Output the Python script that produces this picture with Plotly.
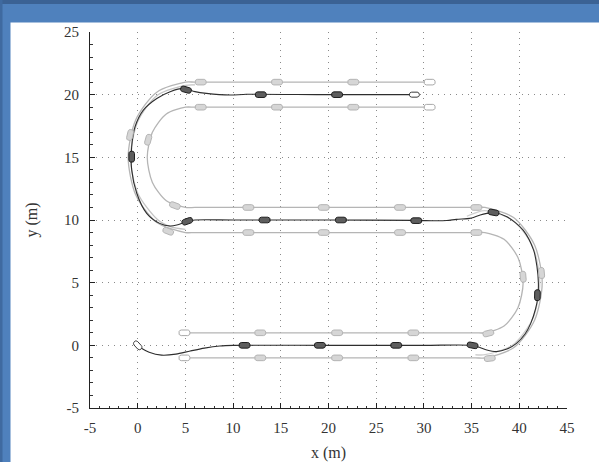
import numpy as np
import plotly.graph_objects as go

# ---------------- data ----------------
x_ticks = [-5, 0, 5, 10, 15, 20, 25, 30, 35, 40, 45]
x_tick_text = ["-5", "0", "5", "10", "15", "20", "25", "30", "35", "40", "45"]
y_ticks = [-5, 0, 5, 10, 15, 20, 25]
y_tick_text = ["-5", "0", "5", "10", "15", "20", "25"]

# lane A (y=-1 -> outer right -> y=11 -> inner left -> y=19)
laneA_x = [4.9, 10, 20, 30, 35.4, 36.4, 39.4, 41.6, 42.4, 41.6, 39.4, 36.4, 35.4, 30, 20, 10, 6, 5, 3, 1.54, 1, 1.54, 3, 5, 6, 10, 20, 30.6]
laneA_y = [-1, -1, -1, -1, -1, -1, -0.2, 2, 5, 8, 10.2, 11, 11, 11, 11, 11, 11, 11, 11.54, 13, 15, 17, 18.46, 19, 19, 19, 19, 19]
# lane B (y=1 -> inner right -> y=9 -> outer left -> y=21)
laneB_x = [4.9, 10, 20, 30, 35.4, 36.4, 38.4, 39.86, 40.4, 39.86, 38.4, 36.4, 35.4, 30, 20, 10, 6, 5, 2, -0.2, -1, -0.2, 2, 5, 6, 10, 20, 30.6]
laneB_y = [1, 1, 1, 1, 1, 1, 1.54, 3, 5, 7, 8.46, 9, 9, 9, 9, 9, 9, 9, 9.8, 12, 15, 18, 20.2, 21, 21, 21, 21, 21]
# secondary light paths on the turns
left2_x = [6.0, 5.0, 2.1, 0.02, -0.75, 0.02, 2.1, 3.5, 5.0]
left2_y = [20.78, 20.75, 19.98, 17.88, 15, 12.12, 10.02, 9.45, 9.25]
right2_x = [35.4, 36.4, 39.3, 41.4, 42.15, 41.4, 39.3, 36.4, 34.5]
right2_y = [-0.75, -0.75, 0.02, 2.12, 5, 7.88, 9.98, 10.75, 10.3]

# ego vehicle path (black)
path_x = [0.2, 1.2, 2.5, 4.0, 5.5, 7.0, 8.6, 10, 20, 30, 35, 35.8, 36.6, 37.6, 38.7, 39.7, 40.6, 41.2, 41.7,
          41.95, 42.0, 41.85, 41.5, 40.4, 38.7, 37.3, 36.6, 35.9, 35.2, 34.8, 33.4, 32.4, 31.3, 29, 20, 10, 6,
          5.2, 4.1, 3.4, 2.3, 0.94, -0.1, -0.63, -0.63, -0.28, 0.59, 2.0, 3.4, 4.8, 6.0, 7.2, 9.7, 11.4, 20, 29]
path_y = [-0.15, -0.55, -0.78, -0.7, -0.45, -0.22, -0.05, 0, 0, 0, 0, -0.15, -0.37, -0.5, -0.3, 0.16, 0.9, 1.75, 2.9,
          3.9, 5.0, 6.3, 7.6, 9.2, 10.26, 10.6, 10.53, 10.4, 10.2, 10.13, 10.05, 9.96, 9.94, 9.97, 10, 10, 10,
          9.9, 9.6, 9.52, 9.73, 10.53, 12.13, 14.0, 15.85, 17.44, 18.77, 19.7, 20.24, 20.5, 20.24, 20.1, 19.97, 20.03, 20, 20]

# gray vehicle snapshots: x, y, heading (deg), kind (0 = start/end outline, 1 = filled)
grayA_x = [4.9, 12.85, 20.9, 28.9, 36.9, 42.33, 35.5, 27.5, 19.5, 11.6, 3.9, 1.1, 6.6, 14.6, 22.6, 30.6]
grayA_y = [-1, -1, -1, -1, -1.04, 5.77, 11, 11, 11, 11, 11.15, 16.4, 19, 19, 19, 19]
grayA_h = [0, 0, 0, 0, 5, 97, 180, 180, 180, 180, 164, 70, 0, 0, 0, 0]
grayB_x = [4.9, 12.85, 20.9, 28.9, 36.75, 40.4, 35.5, 27.5, 19.5, 11.6, 3.2, -0.8, 6.6, 14.6, 22.6, 30.6]
grayB_y = [1, 1, 1, 1, 0.96, 5.47, 9, 9, 9, 9, 9.1, 16.78, 21, 21, 21, 21]
grayB_h = [0, 0, 0, 0, 11, 97, 180, 180, 180, 180, 163, 73, 0, 0, 0, 0]
gray_kind = [0, 1, 1, 1, 1, 1, 1, 1, 1, 1, 1, 1, 1, 1, 1, 0]

ego_x = [0, 11.2, 19.1, 27.1, 35.1, 41.9, 37.3, 29.2, 21.3, 13.3, 5.2, -0.63, 5.06, 12.9, 20.9, 29.0]
ego_y = [0, 0, 0, 0, 0, 4.0, 10.6, 9.95, 10, 10, 9.9, 15.05, 20.4, 20, 20, 20]
ego_h = [-40, 0, 0, 0, -8, 88, 172, 180, 180, 180, 195, 90, -12, 0, 0, 0]
ego_kind = [0, 1, 1, 1, 1, 1, 1, 1, 1, 1, 1, 1, 1, 1, 1, 0]

# ---------------- geometry helpers ----------------
X_RANGE = [-5, 45]
Y_RANGE = [-5, 25]
PLOT_W, PLOT_H = 477, 376
SX = PLOT_W / (X_RANGE[1] - X_RANGE[0])
SY = PLOT_H / (Y_RANGE[1] - Y_RANGE[0])


def glyph(cx, cy, hdg, L=11.0, W=5.6, r=2.3):
    pts = []
    hx, hy = L / 2 - r, W / 2 - r
    for ox, oy, a0 in [(hx, hy, 0), (-hx, hy, 90), (-hx, -hy, 180), (hx, -hy, 270)]:
        for a in np.linspace(a0, a0 + 90, 5):
            pts.append((ox + r * np.cos(np.radians(a)), oy + r * np.sin(np.radians(a))))
    pts.append(pts[0])
    dx, dy = np.cos(np.radians(hdg)) * SX, np.sin(np.radians(hdg)) * SY
    n = np.hypot(dx, dy)
    ux, uy = dx / n, dy / n
    xs = [cx + (px * ux - py * uy) / SX for px, py in pts]
    ys = [cy + (px * uy + py * ux) / SY for px, py in pts]
    return xs, ys


def glyph_trace(xs, ys, hs, kinds, want, fill, line, L=11.0, W=5.6):
    gx, gy = [], []
    for x, y, h, k in zip(xs, ys, hs, kinds):
        if k != want:
            continue
        a, b = glyph(x, y, h, L, W)
        gx += a + [None]
        gy += b + [None]
    return go.Scatter(x=gx, y=gy, mode="lines", fill="toself", fillcolor=fill,
                      line=dict(color=line, width=1), hoverinfo="skip")


fig = go.Figure()

LANE = "#b5b5b5"
for lx, ly, col in [(laneA_x, laneA_y, LANE), (laneB_x, laneB_y, LANE),
                    (left2_x, left2_y, "#c4c4c4"), (right2_x, right2_y, "#cfcfcf")]:
    fig.add_trace(go.Scatter(x=lx, y=ly, mode="lines",
                             line=dict(color=col, width=1.3, shape="spline", smoothing=0.8),
                             hoverinfo="skip"))

fig.add_trace(go.Scatter(x=path_x, y=path_y, mode="lines",
                         line=dict(color="#2e2e2e", width=1.1, shape="spline", smoothing=0.8),
                         hoverinfo="skip"))

for gxs, gys, ghs in [(grayA_x, grayA_y, grayA_h), (grayB_x, grayB_y, grayB_h)]:
    fig.add_trace(glyph_trace(gxs, gys, ghs, gray_kind, 1, "#d6d6d6", "#b4b4b4"))
    fig.add_trace(glyph_trace(gxs, gys, ghs, gray_kind, 0, "#ffffff", "#a8a8a8"))

fig.add_trace(glyph_trace(ego_x, ego_y, ego_h, ego_kind, 1, "#5e5e5e", "#1e1e1e"))
fig.add_trace(glyph_trace(ego_x, ego_y, ego_h, ego_kind, 0, "#ffffff", "#3a3a3a", L=10.0, W=5.0))

axis_common = dict(
    ticks="inside", ticklen=5, tickcolor="#222", tickwidth=1,
    showline=True, linecolor="#222", linewidth=1, mirror=False,
    showgrid=True, gridcolor="#8a8a8a", griddash="1px,5px", gridwidth=1,
    zeroline=False, automargin=False,
    minor=dict(dtick=1, ticks="inside", ticklen=2.5, tickcolor="#333", showgrid=False),
    tickfont=dict(family="Liberation Serif", size=15, color="#333"),
)

fig.update_layout(
    width=599, height=462,
    margin=dict(l=90, r=32, t=32, b=54),
    paper_bgcolor="#4f81bd", plot_bgcolor="rgba(0,0,0,0)",
    showlegend=False,
    font=dict(family="Liberation Serif", size=15, color="#333"),
    xaxis=dict(range=X_RANGE, tickvals=x_ticks, ticktext=x_tick_text,
               title=dict(text="x (m)", standoff=12, font=dict(size=16)),
               ticklabelstandoff=6, **axis_common),
    yaxis=dict(range=Y_RANGE, tickvals=y_ticks, ticktext=y_tick_text,
               title=dict(text="y (m)", standoff=22, font=dict(size=16)),
               ticklabelstandoff=7, **axis_common),
    shapes=[
        dict(type="rect", xref="paper", yref="paper", layer="below",
             x0=(10.5 - 90) / 477, x1=(605 - 90) / 477, y0=(408 - 470) / 376, y1=(408 - 22.5) / 376,
             fillcolor="white", line=dict(width=0)),
        dict(type="rect", xref="paper", yref="paper", layer="below",
             x0=(-5 - 90) / 477, x1=(605 - 90) / 477, y0=(408 - 4) / 376, y1=(408 + 5) / 376,
             fillcolor="#3b6294", line=dict(width=0)),
        dict(type="rect", xref="paper", yref="paper", layer="below",
             x0=(-5 - 90) / 477, x1=(2.5 - 90) / 477, y0=(408 - 470) / 376, y1=(408 + 5) / 376,
             fillcolor="#3f6aa0", line=dict(width=0)),
    ],
)

fig.write_html("out.html", include_plotlyjs=True,
               config={"displayModeBar": False, "staticPlot": True},
               post_script="document.body.style.margin='0px';document.body.style.overflow='hidden';")
